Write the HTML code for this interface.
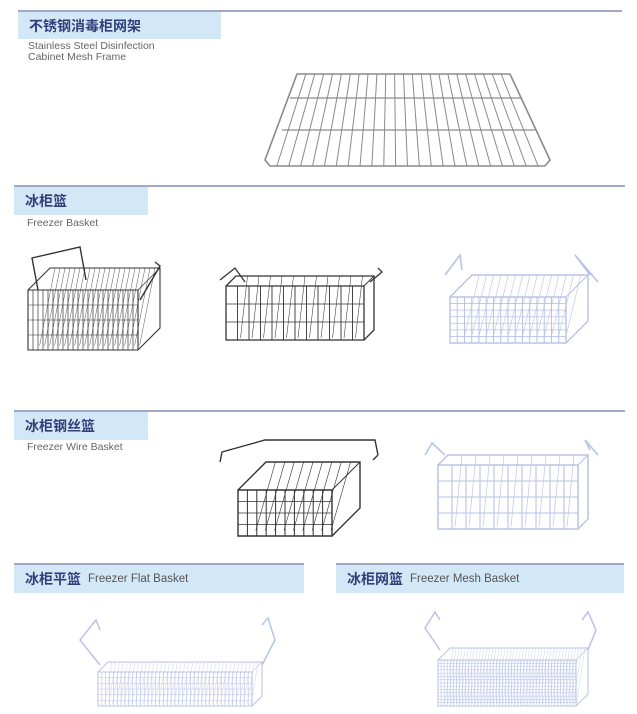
<!DOCTYPE html>
<html><head><meta charset="utf-8">
<style>
*{margin:0;padding:0;box-sizing:border-box}
body{width:637px;height:714px;background:#fff;position:relative;overflow:hidden;font-family:"Liberation Sans","Noto Sans CJK SC",sans-serif}
.ln{position:absolute;height:2px;background:#a3a6c4}
.bx{position:absolute;background:#d3e8f6;color:#2f3f7a;font-weight:bold;font-size:14px;padding-left:11px;display:flex;align-items:center;white-space:nowrap}
.bx span{font-weight:normal;color:#555;font-size:11.5px;margin-left:7px}
.en{position:absolute;color:#666;font-size:10.5px;line-height:11px}
svg{position:absolute;left:0;top:0}
</style></head><body>
<div class="ln" style="left:18px;top:10px;width:604px"></div>
<div class="bx" style="left:18px;top:12px;width:203px;height:27px">不锈钢消毒柜网架</div>
<div class="en" style="left:28px;top:41px">Stainless Steel Disinfection<br>Cabinet Mesh Frame</div>

<div class="ln" style="left:14px;top:185px;width:611px"></div>
<div class="bx" style="left:14px;top:187px;width:134px;height:28px">冰柜篮</div>
<div class="en" style="left:27px;top:218px">Freezer Basket</div>

<div class="ln" style="left:14px;top:410px;width:611px"></div>
<div class="bx" style="left:14px;top:412px;width:134px;height:28px">冰柜钢丝篮</div>
<div class="en" style="left:27px;top:442px">Freezer Wire Basket</div>

<div class="ln" style="left:14px;top:563px;width:290px"></div>
<div class="bx" style="left:14px;top:565px;width:290px;height:28px">冰柜平篮<span>Freezer Flat Basket</span></div>
<div class="ln" style="left:336px;top:563px;width:288px"></div>
<div class="bx" style="left:336px;top:565px;width:288px;height:28px">冰柜网篮<span>Freezer Mesh Basket</span></div>

<svg id="s" width="637" height="714" viewBox="0 0 637 714" fill="none"></svg>
<script>
var s=document.getElementById('s'),h='';
function L(x1,y1,x2,y2,c,w){h+='<line x1="'+x1+'" y1="'+y1+'" x2="'+x2+'" y2="'+y2+'" stroke="'+c+'" stroke-width="'+(w||1)+'"/>';}
function P(d,c,w){h+='<path d="'+d+'" stroke="'+c+'" stroke-width="'+(w||1.2)+'" fill="none"/>';}
var rc='#8a8a8a';
P('M297 74 L510 74 L550 160 L545 166 L270 166 L265 160 Z',rc,1.6);
for(var i=1;i<24;i++){var t=i/24;L(297+213*t,74,265+285*t,166,rc,1);}
L(290,98,522,98,rc,1.2);L(282,130,535,130,rc,1.2);
function B(x,y,w,hh,d,c,n,m,lw){
 var fx=x,fy=y+d,fw=w-d,fh=hh-d;
 P('M'+fx+' '+fy+' L'+(fx+d)+' '+y+' L'+(x+w)+' '+y+' L'+(x+w)+' '+(y+hh-d)+' L'+(fx+fw)+' '+(fy+fh),c,lw+0.4);
 P('M'+fx+' '+fy+' h'+fw+' v'+fh+' h-'+fw+' Z',c,lw+0.4);
 L(fx+fw,fy,x+w,y,c,lw);
 for(var i=1;i<n;i++){var xx=fx+fw*i/n;L(xx,fy,xx,fy+fh,c,lw);L(xx+d,y,xx+d*0.3,fy+fh-d*0.2,c,lw*0.6);}
 for(var j=1;j<m;j++){var yy=fy+fh*j/m;L(fx,yy,fx+fw,yy,c,lw*0.8);}
}
var dk='#333',lt='#b9c3e6';
B(28,268,132,82,22,dk,22,4,0.7);
P('M38 290 L32 258 L80 247 L86 280',dk,1.4);P('M140 300 L160 266 L155 262',dk,1.4);
B(226,276,148,64,10,dk,12,3,0.9);
P('M220 280 L235 268 L245 282 M370 282 L382 272 L378 268',dk,1.3);
B(450,275,138,68,22,lt,16,7,1);
P('M445 275 L460 255 L462 270 M590 275 L575 255 L598 282',lt,1.6);
B(238,462,122,74,28,dk,10,4,1);
P('M220 462 L222 452 L265 440 L375 440 L378 455 M373 460 L378 455',dk,1.4);
B(438,455,150,74,10,lt,10,4,1.1);
P('M425 455 L432 443 L445 455 M590 450 L585 440 L598 455',lt,1.6);
B(98,662,164,44,10,lt,40,6,0.6);
P('M100 665 L80 640 L96 620 L100 630 M262 665 L275 640 L268 618 L262 625',lt,1.5);
B(438,648,150,58,12,lt,45,14,0.6);
P('M440 650 L425 628 L435 612 L440 620 M588 650 L596 630 L588 612 L582 620',lt,1.5);
s.innerHTML=h;
</script>
</body></html>
